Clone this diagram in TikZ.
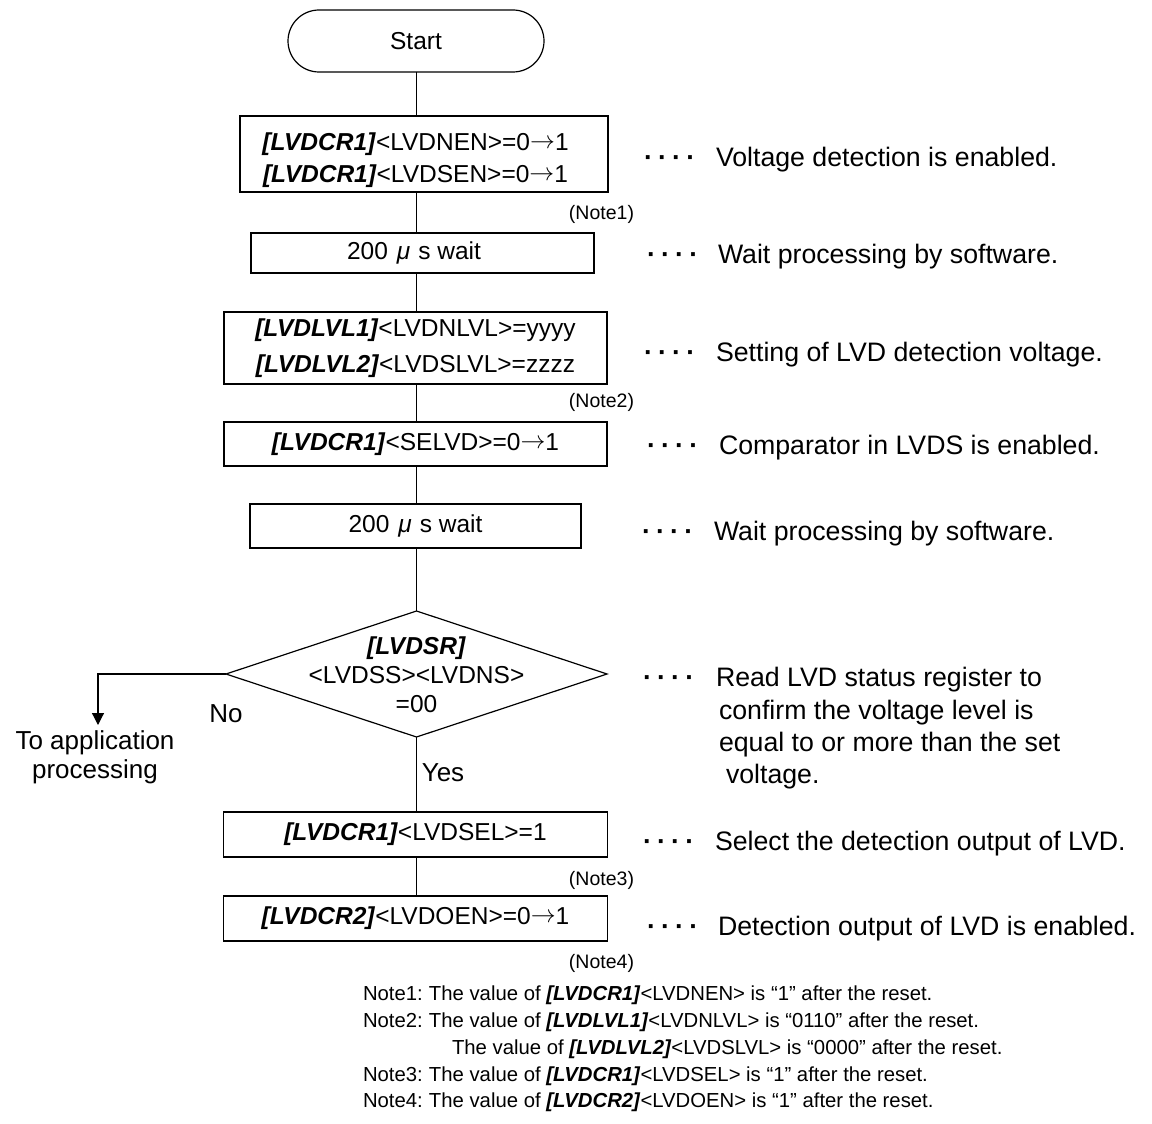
\documentclass[tikz,border=0pt]{standalone}
\usepackage{fontspec}
\setmainfont{Liberation Sans}
\usetikzlibrary{shapes.geometric,arrows.meta}

% register names are set in bold italic
\newcommand\reg[1]{\textbf{\textit{#1}}}
% change-of-value arrow
\newcommand\becomes{\raisebox{2pt}{$\rightarrow$}}
% the leader dots in front of each remark
\newcommand\leaderdots{\textbf{·\kern5.2pt·\kern5.2pt·\kern5.2pt·}}

\begin{document}
\begin{tikzpicture}[x=1pt,y=-1pt,
  every node/.style={inner sep=0pt, outer sep=0pt},
  flow/.style={line width=1.2pt},
  proc/.style={draw, line width=1.2pt, align=center,
    font=\fontsize{24.5}{32}\selectfont},
  term/.style={draw, line width=1.2pt, rounded corners=31pt,
    minimum width=256, minimum height=62,
    font=\fontsize{24.5}{30}\selectfont},
  decision/.style={draw, diamond, line width=1.2pt},
  remark/.style={anchor=base west, font=\fontsize{26.7}{32}\selectfont},
  lbl/.style={anchor=base, font=\fontsize{26}{30}\selectfont},
  noteref/.style={anchor=base east, font=\fontsize{19.5}{24}\selectfont},
  note/.style={anchor=base west, font=\fontsize{20.3}{24}\selectfont},
]
\useasboundingbox (0,0) rectangle (1152,1124);

% main flow axis
\coordinate (ax) at (416.5,0);

% ---- process steps ----
\node[term] (start) at (416,41) {Start};

\node[proc, minimum width=368, minimum height=76] (b1) at (424,154)
  {\rule{0pt}{30pt}\hspace*{-17pt}\reg{[LVDCR1]}<LVDNEN>=0\becomes1\\
   \hspace*{-17pt}\reg{[LVDCR1]}<LVDSEN>=0\becomes1};

\node[proc, minimum width=343, minimum height=40] (b2) at (422.5,253)
  {\hspace*{-17pt}200\hspace{9pt}\textit{μ}\hspace{8pt}s wait};

\node[proc, minimum width=383, minimum height=72] (b3) at (415.5,348)
  {\reg{[LVDLVL1]}<LVDNLVL>=yyyy\\[4pt]
   \reg{[LVDLVL2]}<LVDSLVL>=zzzz};

\node[proc, minimum width=383, minimum height=44] (b4) at (415.5,444)
  {\reg{[LVDCR1]}<SELVD>=0\becomes1};

\node[proc, minimum width=331, minimum height=44] (b5) at (415.5,526)
  {200\hspace{9pt}\textit{μ}\hspace{8pt}s wait};

\node[decision, minimum width=381, minimum height=126] (dec) at (416.5,674) {};
\node[align=center, font=\fontsize{24.5}{29}\selectfont] (dectext) at (416.5,675)
  {\reg{[LVDSR]}\\<LVDSS><LVDNS>\\=00};

\node[proc, minimum width=384, minimum height=45] (b6) at (415.5,834.5)
  {\reg{[LVDCR1]}<LVDSEL>=1};

\node[proc, minimum width=384, minimum height=45] (b7) at (415.5,918.5)
  {\reg{[LVDCR2]}<LVDOEN>=0\becomes1};

% ---- connectors ----
\draw[flow] (start.south -| ax) -- (b1.north -| ax);
\draw[flow] (b1.south -| ax) -- (b2.north -| ax);
\draw[flow] (b2.south -| ax) -- (b3.north -| ax);
\draw[flow] (b3.south -| ax) -- (b4.north -| ax);
\draw[flow] (b4.south -| ax) -- (b5.north -| ax);
\draw[flow] (b5.south -| ax) -- (dec.north);
\draw[flow] (dec.south) -- (b6.north -| ax);
\draw[flow] (b6.south -| ax) -- (b7.north -| ax);

\coordinate (exit) at (98,725);
\draw[flow, -{Triangle[length=12pt,width=12pt]}] (dec.west) -| (exit);

% branch labels
\node[lbl] (no) at (226,722) {No};
\node[lbl] (yes) at (443,781) {Yes};
\node[lbl] (app1) at (95,749) {To application};
\node[lbl] (app2) at (95,778) {processing};

% note references
\node[noteref] (r1) at (634,219) {(Note1)};
\node[noteref] (r2) at (634,407) {(Note2)};
\node[noteref] (r3) at (634,885) {(Note3)};
\node[noteref] (r4) at (634,968) {(Note4)};

% ---- remarks on the right ----
\node[remark] (l1) at (644,166.5) {\leaderdots};
\node[remark] (t1) at (716,166.5) {Voltage detection is enabled.};
\node[remark] (l2) at (647,263.5) {\leaderdots};
\node[remark] (t2) at (718,263.5) {Wait processing by software.};
\node[remark] (l3) at (644,361.5) {\leaderdots};
\node[remark] (t3) at (716,361.5) {Setting of LVD detection voltage.};
\node[remark] (l4) at (647,454.5) {\leaderdots};
\node[remark] (t4) at (719,454.5) {Comparator in LVDS is enabled.};
\node[remark] (l5) at (642,540.5) {\leaderdots};
\node[remark] (t5) at (714,540.5) {Wait processing by software.};
\node[remark] (l6) at (643,686.5) {\leaderdots};
\node[remark] (t6a) at (716,686.5) {Read LVD status register to};
\node[remark] (t6b) at (719,719.5) {confirm the voltage level is};
\node[remark] (t6c) at (719,751.5) {equal to or more than the set};
\node[remark] (t6d) at (726,783.5) {voltage.};
\node[remark] (l7) at (643,850.5) {\leaderdots};
\node[remark] (t7) at (715,850.5) {Select the detection output of LVD.};
\node[remark] (l8) at (647,935.5) {\leaderdots};
\node[remark] (t8) at (718,935.5) {Detection output of LVD is enabled.};

% ---- notes ----
\node[note] (n1) at (363,1000)
  {\makebox[66pt][l]{Note1:}The value of \reg{[LVDCR1]}<LVDNEN> is “1” after the reset.};
\node[note] (n2) at (363,1027)
  {\makebox[66pt][l]{Note2:}The value of \reg{[LVDLVL1]}<LVDNLVL> is “0110” after the reset.};
\node[note] (n2b) at (363,1054)
  {\hspace*{89pt}The value of \reg{[LVDLVL2]}<LVDSLVL> is “0000” after the reset.};
\node[note] (n3) at (363,1081)
  {\makebox[66pt][l]{Note3:}The value of \reg{[LVDCR1]}<LVDSEL> is “1” after the reset.};
\node[note] (n4) at (363,1107)
  {\makebox[66pt][l]{Note4:}The value of \reg{[LVDCR2]}<LVDOEN> is “1” after the reset.};
\end{tikzpicture}
\end{document}
